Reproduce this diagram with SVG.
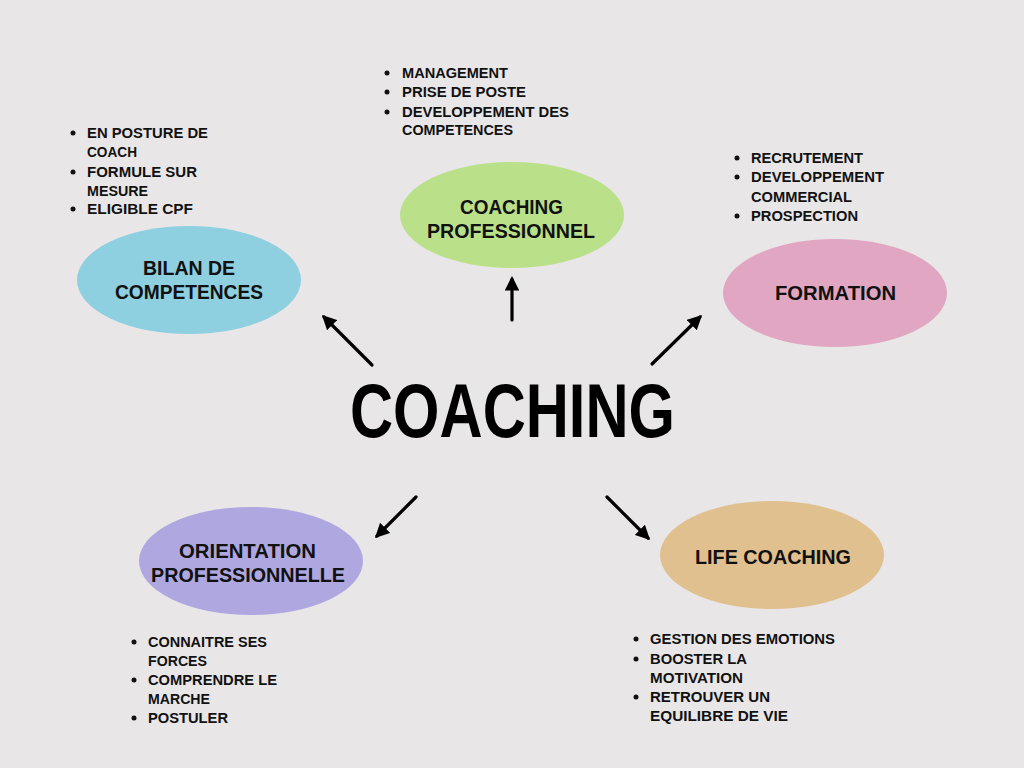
<svg xmlns="http://www.w3.org/2000/svg" width="1024" height="768" viewBox="0 0 1024 768">
<style>
.bg{fill:#E8E6E7}
.lbl{font-family:"Liberation Sans",Arial,sans-serif;font-weight:bold;font-size:20px;fill:#111;text-anchor:start}
.li{font-family:"Liberation Sans",Arial,sans-serif;font-weight:bold;font-size:14px;fill:#111}
.dot{fill:#111}
.title{font-family:"Liberation Sans",Arial,sans-serif;font-weight:bold;font-size:76px;fill:#000}
.conn line{stroke:#000;stroke-width:3.2;stroke-linecap:round}
</style>
<defs>
<marker id="ah" viewBox="0 0 10 10" refX="8" refY="5" markerWidth="4.5" markerHeight="4.5" markerUnits="strokeWidth" orient="auto">
<path d="M0,0 L10,5 L0,10 z" fill="#000"/>
</marker>
</defs>
<rect class="bg" width="1024" height="768"/>

<g id="center">
<text class="title" x="350" y="437" textLength="325" lengthAdjust="spacingAndGlyphs">COACHING</text>
</g>

<g id="connectors" class="conn">
<line x1="372" y1="365" x2="324" y2="317" marker-end="url(#ah)"/>
<line x1="512" y1="320" x2="512" y2="279" marker-end="url(#ah)"/>
<line x1="652" y1="364" x2="700" y2="317" marker-end="url(#ah)"/>
<line x1="416" y1="497" x2="377" y2="536" marker-end="url(#ah)"/>
<line x1="607" y1="497" x2="648" y2="538" marker-end="url(#ah)"/>
</g>

<g id="bilan">
<ellipse cx="189" cy="280" rx="112" ry="54" fill="#8ECFE0"/>
<text class="lbl" x="143" y="275" textLength="92" lengthAdjust="spacingAndGlyphs">BILAN DE</text>
<text class="lbl" x="115" y="299" textLength="148" lengthAdjust="spacingAndGlyphs">COMPETENCES</text>
<circle class="dot" cx="73" cy="133" r="2.5"/>
<circle class="dot" cx="73" cy="172" r="2.5"/>
<circle class="dot" cx="73" cy="209" r="2.5"/>
<text class="li" x="87" y="138" textLength="121" lengthAdjust="spacingAndGlyphs">EN POSTURE DE</text>
<text class="li" x="87" y="157" textLength="50" lengthAdjust="spacingAndGlyphs">COACH</text>
<text class="li" x="87" y="177" textLength="110" lengthAdjust="spacingAndGlyphs">FORMULE SUR</text>
<text class="li" x="87" y="196" textLength="61" lengthAdjust="spacingAndGlyphs">MESURE</text>
<text class="li" x="87" y="214" textLength="106" lengthAdjust="spacingAndGlyphs">ELIGIBLE CPF</text>
</g>

<g id="coaching-pro">
<ellipse cx="512" cy="215" rx="112" ry="53" fill="#BAE08A"/>
<text class="lbl" x="460" y="214" textLength="103" lengthAdjust="spacingAndGlyphs">COACHING</text>
<text class="lbl" x="427" y="238" textLength="168" lengthAdjust="spacingAndGlyphs">PROFESSIONNEL</text>
<circle class="dot" cx="387" cy="73" r="2.5"/>
<circle class="dot" cx="387" cy="92" r="2.5"/>
<circle class="dot" cx="387" cy="112" r="2.5"/>
<text class="li" x="402" y="78" textLength="106" lengthAdjust="spacingAndGlyphs">MANAGEMENT</text>
<text class="li" x="402" y="97" textLength="124" lengthAdjust="spacingAndGlyphs">PRISE DE POSTE</text>
<text class="li" x="402" y="117" textLength="167" lengthAdjust="spacingAndGlyphs">DEVELOPPEMENT DES</text>
<text class="li" x="402" y="135" textLength="111" lengthAdjust="spacingAndGlyphs">COMPETENCES</text>
</g>

<g id="formation">
<ellipse cx="835" cy="293" rx="112" ry="54" fill="#E0A6C2"/>
<text class="lbl" x="775" y="300" textLength="121" lengthAdjust="spacingAndGlyphs">FORMATION</text>
<circle class="dot" cx="737" cy="158" r="2.5"/>
<circle class="dot" cx="737" cy="177" r="2.5"/>
<circle class="dot" cx="737" cy="216" r="2.5"/>
<text class="li" x="751" y="163" textLength="112" lengthAdjust="spacingAndGlyphs">RECRUTEMENT</text>
<text class="li" x="751" y="182" textLength="133" lengthAdjust="spacingAndGlyphs">DEVELOPPEMENT</text>
<text class="li" x="751" y="202" textLength="101" lengthAdjust="spacingAndGlyphs">COMMERCIAL</text>
<text class="li" x="751" y="221" textLength="107" lengthAdjust="spacingAndGlyphs">PROSPECTION</text>
</g>

<g id="orientation">
<ellipse cx="251" cy="561" rx="112" ry="54" fill="#AFA8E0"/>
<text class="lbl" x="179" y="558" textLength="137" lengthAdjust="spacingAndGlyphs">ORIENTATION</text>
<text class="lbl" x="151" y="582" textLength="194" lengthAdjust="spacingAndGlyphs">PROFESSIONNELLE</text>
<circle class="dot" cx="134" cy="642" r="2.5"/>
<circle class="dot" cx="134" cy="680" r="2.5"/>
<circle class="dot" cx="134" cy="718" r="2.5"/>
<text class="li" x="148" y="647" textLength="119" lengthAdjust="spacingAndGlyphs">CONNAITRE SES</text>
<text class="li" x="148" y="666" textLength="59" lengthAdjust="spacingAndGlyphs">FORCES</text>
<text class="li" x="148" y="685" textLength="129" lengthAdjust="spacingAndGlyphs">COMPRENDRE LE</text>
<text class="li" x="148" y="704" textLength="62" lengthAdjust="spacingAndGlyphs">MARCHE</text>
<text class="li" x="148" y="723" textLength="80" lengthAdjust="spacingAndGlyphs">POSTULER</text>
</g>

<g id="life-coaching">
<ellipse cx="772" cy="555" rx="112" ry="54" fill="#E0C08F"/>
<text class="lbl" x="695" y="564" textLength="156" lengthAdjust="spacingAndGlyphs">LIFE COACHING</text>
<circle class="dot" cx="636" cy="639" r="2.5"/>
<circle class="dot" cx="636" cy="659" r="2.5"/>
<circle class="dot" cx="636" cy="697" r="2.5"/>
<text class="li" x="650" y="644" textLength="185" lengthAdjust="spacingAndGlyphs">GESTION DES EMOTIONS</text>
<text class="li" x="650" y="664" textLength="97" lengthAdjust="spacingAndGlyphs">BOOSTER LA</text>
<text class="li" x="650" y="683" textLength="93" lengthAdjust="spacingAndGlyphs">MOTIVATION</text>
<text class="li" x="650" y="702" textLength="120" lengthAdjust="spacingAndGlyphs">RETROUVER UN</text>
<text class="li" x="650" y="721" textLength="138" lengthAdjust="spacingAndGlyphs">EQUILIBRE DE VIE</text>
</g>
</svg>
